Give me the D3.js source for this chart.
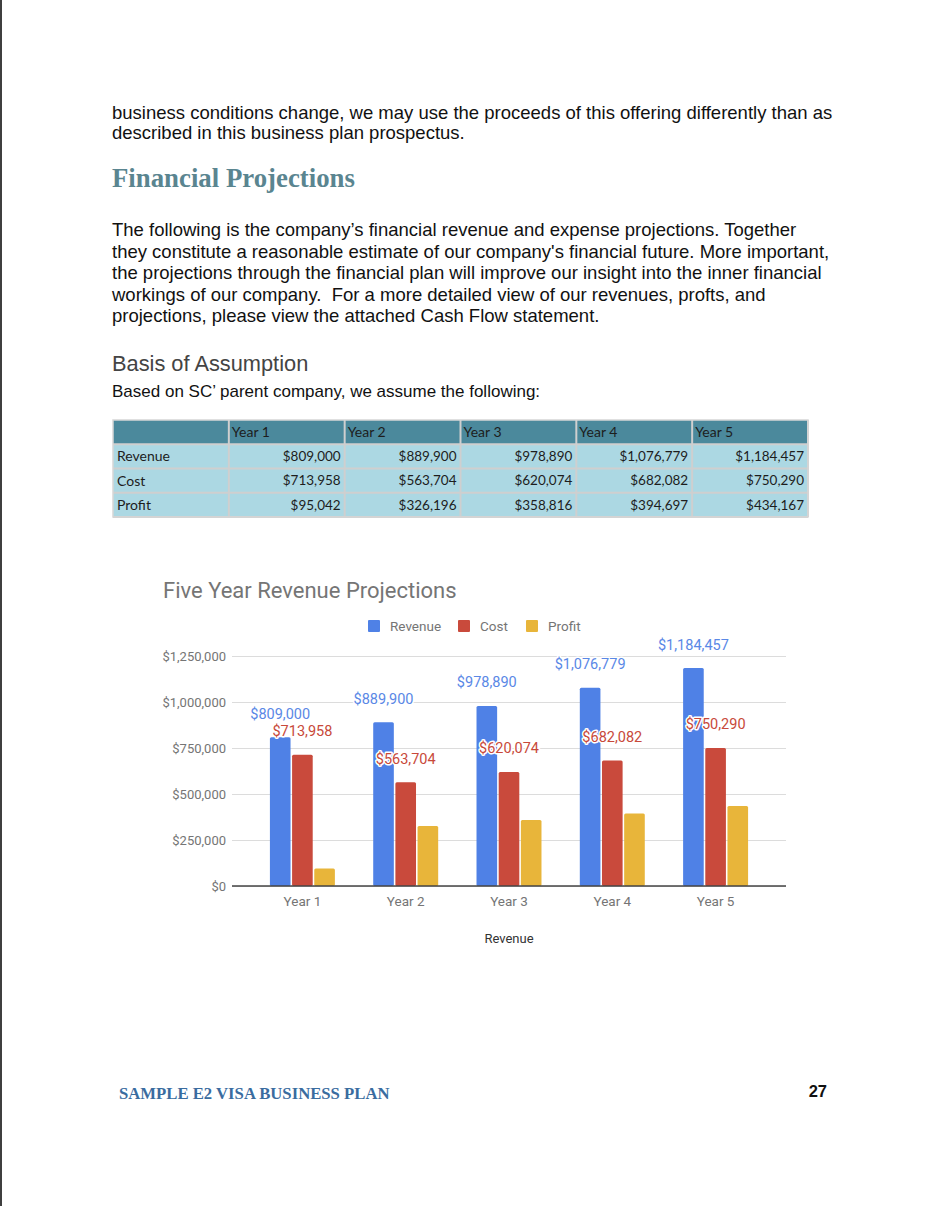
<!DOCTYPE html>
<html>
<head>
<meta charset="utf-8">
<script src="https://cdn.jsdelivr.net/npm/d3@7/dist/d3.min.js"></script>
<style>
  html, body { margin: 0; padding: 0; background: #ffffff; }
  svg { display: block; }
</style>
</head>
<body>
<svg id="page" width="938" height="1206"></svg>
<script>
// ---------- DATA ----------
const categories = ["Year 1", "Year 2", "Year 3", "Year 4", "Year 5"];
const seriesNames = ["Revenue", "Cost", "Profit"];
const revenue = [809000, 889900, 978890, 1076779, 1184457];
const cost = [713958, 563704, 620074, 682082, 750290];
const profit = [95042, 326196, 358816, 394697, 434167];
const yTicks = [0, 250000, 500000, 750000, 1000000, 1250000];
const chartTitle = "Five Year Revenue Projections";
const xAxisTitle = "Revenue";

const introLines = [
  "business conditions change, we may use the proceeds of this offering differently than as",
  "described in this business plan prospectus."
];
const headingText = "Financial Projections";
const paraLines = [
  "The following is the company\u2019s financial revenue and expense projections. Together",
  "they constitute a reasonable estimate of our company's financial future. More important,",
  "the projections through the financial plan will improve our insight into the inner financial",
  "workings of our company.  For a more detailed view of our revenues, profts, and",
  "projections, please view the attached Cash Flow statement."
];
const subHeading = "Basis of Assumption";
const subLine = "Based on SC\u2019 parent company, we assume the following:";
const footerText = "SAMPLE E2 VISA BUSINESS PLAN";
const pageNumber = "27";

// ---------- STYLE ----------
const colors = { Revenue: "#4f81e6", Cost: "#c94a3c", Profit: "#e8b53a" };
const labelColors = { Revenue: "#5a88e6", Cost: "#c8493a" };

const svg = d3.select("#page");
svg.append("rect").attr("x", 0).attr("y", 0).attr("width", 938).attr("height", 1206).attr("fill", "#ffffff");
svg.append("rect").attr("x", 0).attr("y", 0).attr("width", 2).attr("height", 1206).attr("fill", "#3f3f3f");

// ---------- PAGE TEXT ----------
const bodyFont = "'Liberation Sans', Arial, sans-serif";
svg.append("g").selectAll("text").data(introLines).join("text")
  .attr("x", 112).attr("y", (d, i) => 119 + i * 20)
  .attr("font-family", bodyFont).attr("font-size", 18.5).attr("fill", "#111")
  .attr("style", "white-space: pre")
  .text(d => d);

svg.append("text").attr("x", 112).attr("y", 187)
  .attr("font-family", "'Liberation Serif', 'DejaVu Serif', serif").attr("font-weight", "bold")
  .attr("font-size", 26.8).attr("fill", "#5a8590").text(headingText);

svg.append("g").selectAll("text").data(paraLines).join("text")
  .attr("x", 112).attr("y", (d, i) => 236 + i * 21.5)
  .attr("font-family", bodyFont).attr("font-size", 18.5).attr("fill", "#111")
  .attr("style", "white-space: pre")
  .text(d => d);

svg.append("text").attr("x", 112).attr("y", 371)
  .attr("font-family", bodyFont).attr("font-size", 21.8).attr("fill", "#444")
  .text(subHeading);
svg.append("text").attr("x", 112).attr("y", 397)
  .attr("font-family", bodyFont).attr("font-size", 17).attr("fill", "#111")
  .text(subLine);

// ---------- TABLE ----------
const fmt = d3.format("$,");
const tableRows = [
  { name: "Revenue", values: revenue },
  { name: "Cost", values: cost },
  { name: "Profit", values: profit }
];
const colX = d3.scaleBand().domain(["label"].concat(categories)).range([113, 808]);
const rowY = d3.scaleBand().domain(["head"].concat(tableRows.map(r => r.name))).range([420, 517]);
const tFont = "Lato, 'Open Sans', sans-serif";
const table = svg.append("g");
table.append("rect").attr("x", 113).attr("y", rowY("head")).attr("width", 695).attr("height", rowY.bandwidth()).attr("fill", "#4b899c");
table.append("rect").attr("x", 113).attr("y", rowY("Revenue")).attr("width", 695).attr("height", 517 - rowY("Revenue")).attr("fill", "#acd8e3");
table.selectAll("line.v").data(colX.domain().slice(1).concat(["end"])).join("line")
  .attr("x1", d => d === "end" ? 808 : colX(d)).attr("x2", d => d === "end" ? 808 : colX(d))
  .attr("y1", 420).attr("y2", 517).attr("stroke", "#cfcfcf").attr("stroke-width", 2);
table.selectAll("line.h").data(rowY.domain().slice(1).concat(["end"])).join("line")
  .attr("x1", 113).attr("x2", 808)
  .attr("y1", d => d === "end" ? 517 : rowY(d)).attr("y2", d => d === "end" ? 517 : rowY(d))
  .attr("stroke", "#cfcfcf").attr("stroke-width", 2);
table.append("rect").attr("x", 113).attr("y", 420).attr("width", 695).attr("height", 97)
  .attr("fill", "none").attr("stroke", "#d6d6d6").attr("stroke-width", 1.5);
table.selectAll("text.h").data(categories).join("text")
  .attr("x", d => colX(d) + 3).attr("y", rowY("head") + rowY.bandwidth() / 2).attr("dy", "0.35em")
  .attr("font-family", tFont).attr("font-size", 14).attr("fill", "#1d1d1d").text(d => d);
tableRows.forEach(r => {
  table.append("text").attr("x", 117).attr("y", rowY(r.name) + rowY.bandwidth() / 2).attr("dy", "0.35em")
    .attr("font-family", tFont).attr("font-size", 14).attr("fill", "#1d1d1d").text(r.name);
  table.selectAll(null).data(r.values).join("text")
    .attr("x", (d, i) => colX(categories[i]) + colX.bandwidth() - 4)
    .attr("y", rowY(r.name) + rowY.bandwidth() / 2).attr("dy", "0.35em")
    .attr("text-anchor", "end")
    .attr("font-family", tFont).attr("font-size", 13.5).attr("fill", "#1d1d1d").text(d => fmt(d));
});

// ---------- CHART ----------
const cFont = "Roboto, 'Noto Sans', sans-serif";
const plot = { left: 232, right: 786, top: 656, bottom: 886 };
const x = d3.scaleBand().domain(categories).range([plot.left, plot.right]).paddingInner(0.371).paddingOuter(0.367);
const xs = d3.scaleBand().domain(seriesNames).range([0, x.bandwidth()]).paddingInner(0.07);
const y = d3.scaleLinear().domain([0, 1250000]).range([plot.bottom, plot.top]);

const chart = svg.append("g");
chart.append("text").attr("x", 163).attr("y", 598)
  .attr("font-family", cFont).attr("font-size", 22).attr("fill", "#757575").text(chartTitle);

// legend
const legendX = [368, 458, 526];
const legend = chart.append("g").selectAll("g").data(seriesNames).join("g")
  .attr("transform", (d, i) => `translate(${legendX[i]},620)`);
legend.append("rect").attr("width", 12).attr("height", 12).attr("rx", 1).attr("fill", d => colors[d]);
legend.append("text").attr("x", 22).attr("y", 6).attr("dy", "0.35em")
  .attr("font-family", cFont).attr("font-size", 13.5).attr("fill", "#757575").text(d => d);

// y axis + gridlines
const yAxis = chart.append("g").attr("transform", `translate(${plot.left},0)`)
  .call(d3.axisLeft(y).tickValues(yTicks).tickFormat(d3.format("$,")).tickSize(-(plot.right - plot.left)).tickPadding(6));
yAxis.select(".domain").remove();
yAxis.selectAll(".tick line").attr("stroke", "#dcdcdc").attr("stroke-width", 1.2);
yAxis.selectAll(".tick text").attr("font-family", cFont).attr("font-size", 13).attr("fill", "#757575");

// bars
const rows = categories.map((c, i) => ({ cat: c, Revenue: revenue[i], Cost: cost[i], Profit: profit[i] }));
const groups = chart.append("g").selectAll("g").data(rows).join("g")
  .attr("transform", d => `translate(${x(d.cat)},0)`);
groups.selectAll("rect").data(d => seriesNames.map(s => ({ s, v: d[s] }))).join("rect")
  .attr("x", d => xs(d.s)).attr("width", xs.bandwidth())
  .attr("y", d => y(d.v)).attr("height", d => y(0) - y(d.v))
  .attr("rx", 1.5).attr("fill", d => colors[d.s]);

// baseline + category labels
const xAxis = chart.append("g").attr("transform", `translate(0,${plot.bottom})`)
  .call(d3.axisBottom(x).tickSize(0).tickPadding(10));
xAxis.select(".domain").attr("d", `M${plot.left},0H${plot.right}`).attr("stroke", "#444").attr("stroke-width", 1.3);
xAxis.selectAll(".tick text").attr("font-family", cFont).attr("font-size", 13.5).attr("fill", "#757575");

chart.append("text").attr("x", 509).attr("y", 943).attr("text-anchor", "middle")
  .attr("font-family", cFont).attr("font-size", 13).attr("fill", "#333").text(xAxisTitle);

// annotations (Revenue and Cost)
groups.selectAll("text.ann").data(d => ["Revenue", "Cost"].map(s => ({ s, v: d[s] }))).join("text")
  .attr("class", "ann")
  .attr("x", d => xs(d.s) + xs.bandwidth() / 2).attr("y", d => y(d.v) - 18.5)
  .attr("text-anchor", "middle")
  .attr("font-family", cFont).attr("font-size", 14.5)
  .attr("fill", d => labelColors[d.s])
  .attr("stroke", "#ffffff").attr("stroke-width", 3).attr("paint-order", "stroke").attr("stroke-linejoin", "round")
  .text(d => fmt(d.v));

// footer
svg.append("text").attr("x", 119).attr("y", 1099)
  .attr("font-family", "'Liberation Serif', 'DejaVu Serif', serif").attr("font-weight", "bold")
  .attr("font-size", 16.7).attr("fill", "#3a6c9f").text(footerText);
svg.append("text").attr("x", 827).attr("y", 1097).attr("text-anchor", "end")
  .attr("font-family", bodyFont).attr("font-weight", "bold")
  .attr("font-size", 16.5).attr("fill", "#111").text(pageNumber);
</script>
</body>
</html>
